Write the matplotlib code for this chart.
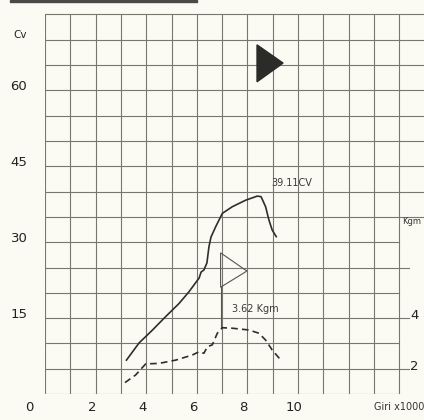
import matplotlib.pyplot as plt
from matplotlib.patches import Polygon, Rectangle

# ---- Data ----
power_rpm = [3.22, 3.72, 4.24, 4.77, 5.30, 5.69, 5.97, 6.09, 6.17, 6.28, 6.40, 6.48,
             6.56, 6.75, 7.01, 7.40, 7.93, 8.39, 8.54, 8.72, 8.85, 8.98, 9.14]
power_cv = [6.7, 10.1, 12.6, 15.3, 17.9, 20.2, 22.1, 22.9, 24.1, 24.5, 25.9, 29.1,
            31.0, 33.1, 35.7, 37.0, 38.3, 39.11, 39.0, 37.0, 34.4, 32.4, 31.1]

torque_rpm = [3.16, 3.58, 3.98, 4.51, 5.17, 5.82, 6.09, 6.28, 6.42, 6.61, 6.81, 7.01,
              7.40, 8.06, 8.46, 8.72, 8.98, 9.32]
torque_kgm = [1.45, 1.75, 2.19, 2.21, 2.34, 2.54, 2.67, 2.61, 2.87, 2.94, 3.40, 3.62,
              3.60, 3.53, 3.40, 3.13, 2.74, 2.34]

x_ticks = [2, 4, 6, 8, 10]
cv_ticks = [15, 30, 45, 60]
kgm_ticks = [2, 4]

BG = "#fbfbf3"
GRID = "#77776f"
INK = "#2e2e2c"

fig = plt.figure(figsize=(4.24, 4.20), dpi=100, facecolor=BG)
ax = fig.add_axes([45 / 424, 26 / 420, 379 / 424, 394 / 420])
ax.patch.set_visible(False)
ax.axis("off")
ax.set_xlim(0, 379 / 25.3)
ax.set_ylim(0, 394 / 5.06)

# torque scale: 1 Kgm per grid cell, 4 Kgm on the 15 CV line
ax2 = ax.twinx()
ax2.axis("off")
lo, hi = ax.get_ylim()
ax2.set_ylim((lo + 5) / 5, (hi + 5) / 5)

# ---- grid paper ----
xmax = ax.get_xlim()[1]
for r in range(15):
    ax.plot([r, r], [0, 75], color=GRID, lw=0.8, zorder=1)
for c in range(0, 80, 5):
    if c >= 35:
        end = xmax
    elif c in (5, 15, 25):
        end = 14.4
    else:
        end = 14
    ax.plot([0, end], [c, c], color=GRID, lw=0.8, zorder=1)

# dark page edge at the top
fig.patches.append(Rectangle((10 / 424, 418 / 420), 187 / 424, 2 / 420,
                             transform=fig.transFigure, color="#4a4a47", zorder=0))

# ---- curves ----
ax.plot(power_rpm, power_cv, color=INK, lw=1.2, zorder=3)
ax2.plot(torque_rpm, torque_kgm, color=INK, lw=1.2, ls=(0, (4, 2.5)), zorder=3)

# pointer flags
ax.add_patch(Polygon([[8.38, 69.0], [8.38, 61.7], [9.41, 65.4]], closed=True,
                     facecolor="#2b2b29", edgecolor="#2b2b29", zorder=4))
ax.add_patch(Polygon([[6.94, 27.9], [6.94, 21.1], [7.98, 24.3]], closed=True,
                     facecolor="none", edgecolor="#555552", lw=0.8, zorder=4))
ax.plot([6.94, 6.94], [21.1, 13.0], color="#555552", lw=0.8, zorder=4)

# ---- labels ----
lab = dict(color="#222220", fontsize=9.5, ha="center", va="center", clip_on=False)
ax.text(-0.62, -2.6, "0", **lab)
for v in x_ticks:
    ax.text(v - 0.15, -2.6, str(v), **lab)
for v in cv_ticks:
    ax.text(-1.03, v + 0.7, str(v), **lab)
ax.text(-1.0, 70.9, "Cv", color="#222220", fontsize=7.5, ha="center", va="center")
for v in kgm_ticks:
    ax2.text(14.6, v + 0.1, str(v), **lab)
ax.text(14.86, 34.0, "Kgm", color="#333331", fontsize=6, ha="right", va="center")
ax.text(xmax, -2.6, "Giri x1000", color="#333331", fontsize=7, ha="right",
        va="center", clip_on=False)

ax.text(8.95, 41.7, "39.11CV", color="#3a3a38", fontsize=7, va="center")
ax.text(7.4, 16.7, "3.62 Kgm", color="#3a3a38", fontsize=7, va="center")

fig.savefig("out.png", dpi=100, facecolor=BG)
